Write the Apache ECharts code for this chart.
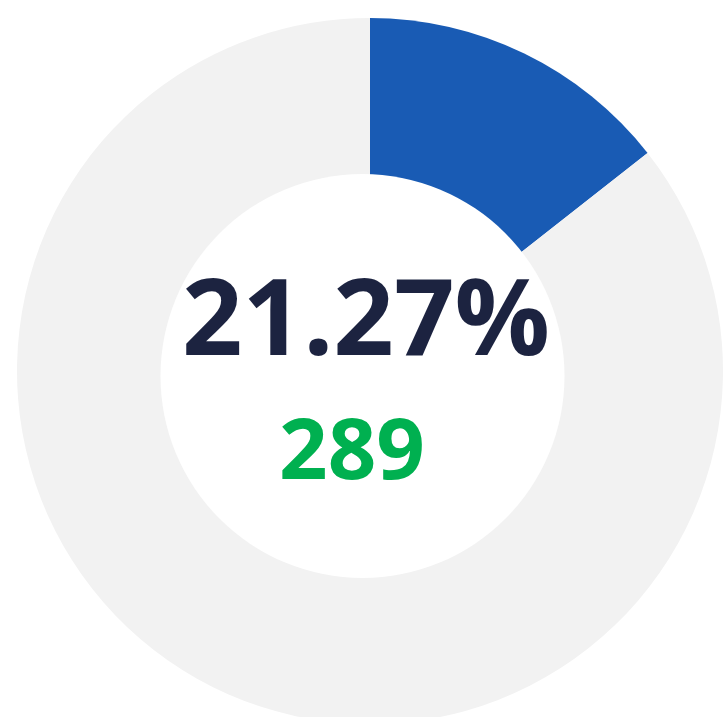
<!DOCTYPE html>
<html>
<head>
<meta charset="utf-8">
<style>
  html, body { margin: 0; padding: 0; background: #fff; }
  #main { width: 724px; height: 717px; }
</style>
<script src="https://cdn.jsdelivr.net/npm/echarts@6/dist/echarts.min.js"></script>
</head>
<body>
<div id="main"></div>
<script>
    // 数据
    var sliceNames = ['占比', '其余'];
    var sliceValues = [14.4, 85.6];
    var sliceColors = ['#195bb4', '#f2f2f2'];
    var rateText = '21.27%';
    var countText = '289';

    var chart = echarts.init(document.getElementById('main'));

    var pieData = sliceNames.map(function (name, i) {
        return { name: name, value: sliceValues[i], itemStyle: { color: sliceColors[i] } };
    });

    chart.setOption({
        backgroundColor: '#fff',
        animation: false,
        series: [
            {
                type: 'pie',
                center: [370, 371],
                radius: [0, 353],
                startAngle: 90,
                clockwise: true,
                silent: true,
                label: { show: false },
                labelLine: { show: false },
                data: pieData
            },
            {
                // 中间白色圆
                type: 'pie',
                center: [362.5, 376],
                radius: [0, 202],
                silent: true,
                label: { show: false },
                labelLine: { show: false },
                itemStyle: { color: '#fff' },
                data: [{ name: 'inner', value: 1 }]
            }
        ],
        graphic: [
            {
                type: 'text',
                z: 100,
                x: 366,
                y: 325,
                style: {
                    text: rateText,
                    fontFamily: 'Open Sans',
                    fontWeight: 'bold',
                    fontSize: 106,
                    fill: '#1c2340',
                    align: 'center',
                    verticalAlign: 'middle'
                }
            },
            {
                type: 'text',
                z: 100,
                x: 352,
                y: 455,
                style: {
                    text: countText,
                    fontFamily: 'Open Sans',
                    fontWeight: 'bold',
                    fontSize: 85,
                    fill: '#00b050',
                    align: 'center',
                    verticalAlign: 'middle'
                }
            }
        ]
    });
</script>
</body>
</html>
